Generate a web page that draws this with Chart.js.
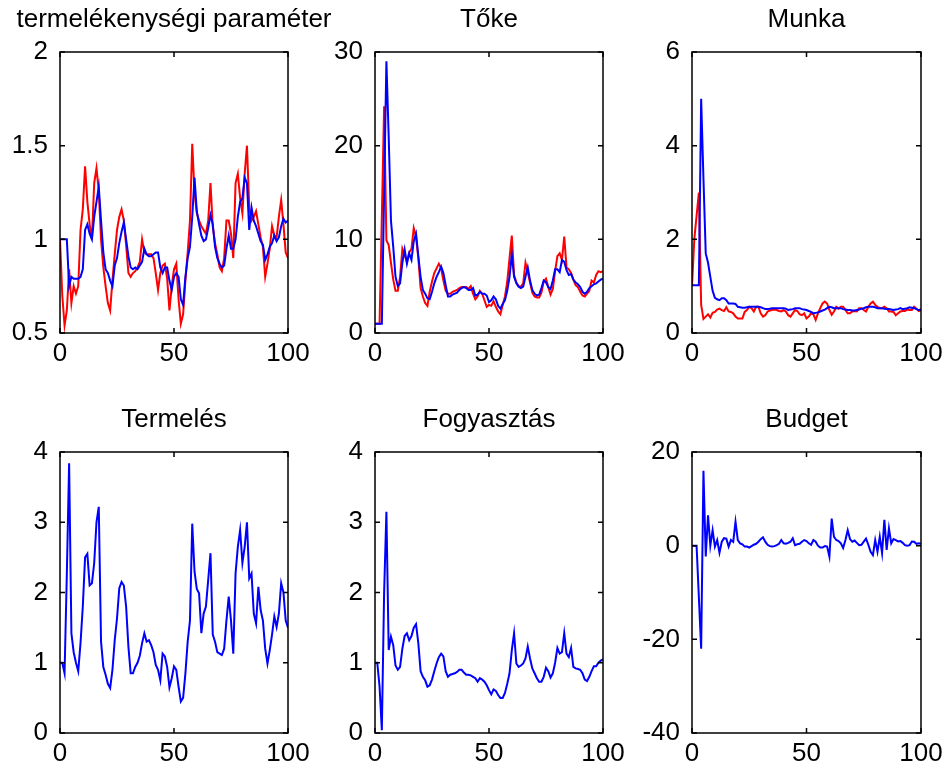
<!DOCTYPE html>
<html><head><meta charset="utf-8">
<script src="https://cdn.jsdelivr.net/npm/chart.js@4.4.1/dist/chart.umd.min.js"></script>
<style>
html,body{margin:0;padding:0;background:#fff;width:945px;height:771px;overflow:hidden;position:relative}
canvas{position:absolute}
</style></head><body>
<script>
// x categories (periods 0..100)
const periods = Array.from({length: 101}, (_, i) => i);
const xTicks = [0, 50, 100];

// termelékenységi paraméter
const tfpBlue = [1.0,1.0,1.0,1.0,0.75,0.8,0.79,0.79,0.79,0.8,
 0.84,1.05,1.08,1.03,1.0,1.12,1.2,1.28,1.1,0.93,
 0.84,0.82,0.78,0.75,0.86,0.9,0.98,1.04,1.09,1.0,
 0.91,0.85,0.84,0.85,0.84,0.86,0.88,0.95,0.92,0.91,
 0.91,0.92,0.93,0.93,0.85,0.82,0.85,0.85,0.78,0.73,
 0.8,0.82,0.8,0.68,0.65,0.8,0.9,0.96,1.12,1.33,
 1.15,1.08,1.02,0.99,1.0,1.06,1.13,1.08,0.96,0.9,
 0.87,0.85,0.86,0.95,1.02,0.95,0.95,1.0,1.12,1.2,
 1.22,1.33,1.3,1.05,1.17,1.1,1.07,1.03,0.99,0.97,
 0.89,0.92,0.96,0.98,1.02,0.99,1.01,1.07,1.11,1.09,1.1];
const tfpRed = [1.0,0.7,0.54,0.62,0.84,0.66,0.75,0.71,0.75,1.05,
 1.16,1.39,1.2,1.08,1.0,1.3,1.38,1.26,1.0,0.85,
 0.75,0.66,0.62,0.78,0.92,1.05,1.12,1.16,1.1,0.97,
 0.82,0.8,0.82,0.83,0.85,0.88,1.0,0.93,0.92,0.92,
 0.92,0.9,0.82,0.73,0.82,0.86,0.87,0.79,0.62,0.75,
 0.84,0.87,0.68,0.55,0.6,0.78,0.93,1.1,1.51,1.25,
 1.14,1.1,1.07,1.05,1.03,1.1,1.3,1.07,0.98,0.92,
 0.85,0.83,0.9,1.1,1.1,1.03,0.9,1.3,1.35,1.22,
 1.14,1.35,1.5,1.17,1.1,1.12,1.15,1.08,1.01,0.96,
 0.8,0.87,0.95,1.07,1.02,1.01,1.12,1.21,1.08,0.93,0.9];

// Tőke
const capBlue = [1,1,1,1,15,29,21,12,9.2,6.0,
 5.0,5.3,7.5,8.9,7.4,8.5,7.8,9.8,10.6,8.2,
 6.0,4.6,4.2,3.7,3.6,4.4,5.3,6.0,6.5,7.1,
 6.4,5.1,3.9,3.9,4.1,4.2,4.3,4.6,4.8,4.9,
 4.8,4.6,4.6,4.8,4.0,4.1,4.4,4.2,4.2,4.0,
 3.3,3.5,3.9,3.6,2.9,2.6,3.1,3.5,4.5,6.0,
 8.4,6.0,5.3,4.95,4.8,4.95,6.0,7.0,5.6,4.6,
 4.2,4.0,4.1,4.8,5.6,5.4,4.9,4.7,5.6,6.8,
 6.8,6.5,7.8,7.6,6.7,6.2,6.3,5.7,5.4,5.2,
 4.9,4.4,4.2,4.4,4.8,5.0,5.2,5.3,5.5,5.7,5.8];
const capRed = [1,1,1,12.4,24.2,9.9,9.4,7.5,5.7,4.5,
 4.5,6.0,9.0,8.3,7.6,8.6,9.0,11.2,10.3,8.0,
 4.8,3.9,3.2,2.9,4.4,5.5,6.4,6.9,7.4,6.9,
 5.6,4.5,4.2,4.2,4.4,4.5,4.6,4.8,4.9,4.9,
 4.9,4.7,5.0,4.2,3.6,3.9,4.5,4.2,3.5,2.8,
 3.0,2.9,3.4,2.8,2.3,2.0,3.0,3.9,5.5,8.0,
 10.4,6.2,5.4,5.0,4.95,5.3,7.5,6.5,5.4,4.3,
 3.9,3.8,3.8,4.3,5.5,5.8,4.9,4.1,4.7,6.6,
 8.2,8.5,7.8,10.3,7.0,6.8,6.4,5.7,5.1,4.9,
 4.4,4.0,3.9,4.2,4.5,5.6,5.4,6.2,6.6,6.5,6.6];

// Munka
const labBlue = [1.02,1.02,1.02,1.02,5.0,3.3,1.7,1.5,1.2,0.9,
 0.75,0.72,0.7,0.74,0.74,0.7,0.63,0.63,0.63,0.62,
 0.56,0.55,0.54,0.54,0.55,0.56,0.56,0.56,0.56,0.56,
 0.55,0.53,0.51,0.51,0.52,0.53,0.53,0.53,0.53,0.53,
 0.53,0.52,0.49,0.5,0.51,0.53,0.53,0.53,0.51,0.5,
 0.49,0.47,0.45,0.42,0.43,0.44,0.46,0.48,0.5,0.53,
 0.56,0.55,0.53,0.53,0.53,0.53,0.51,0.5,0.49,0.49,
 0.48,0.48,0.49,0.5,0.52,0.53,0.55,0.56,0.56,0.56,
 0.55,0.53,0.53,0.53,0.52,0.51,0.51,0.5,0.49,0.5,
 0.51,0.53,0.51,0.52,0.53,0.55,0.54,0.53,0.51,0.49,0.5];
const labRed = [1.0,2.0,2.5,3.0,0.6,0.3,0.35,0.4,0.33,0.43,
 0.45,0.5,0.52,0.49,0.47,0.55,0.46,0.45,0.42,0.35,
 0.31,0.31,0.31,0.45,0.49,0.56,0.53,0.46,0.56,0.56,
 0.42,0.35,0.38,0.46,0.48,0.49,0.5,0.49,0.47,0.46,
 0.49,0.46,0.38,0.35,0.42,0.49,0.47,0.4,0.38,0.42,
 0.31,0.35,0.42,0.4,0.28,0.42,0.53,0.63,0.67,0.63,
 0.49,0.39,0.46,0.56,0.52,0.56,0.56,0.49,0.42,0.42,
 0.46,0.47,0.46,0.53,0.53,0.49,0.46,0.56,0.63,0.67,
 0.6,0.56,0.53,0.53,0.56,0.53,0.46,0.46,0.45,0.38,
 0.42,0.46,0.47,0.47,0.5,0.49,0.49,0.56,0.52,0.47,0.49];

// Termelés
const output = [1.0,1.0,0.85,2.27,3.84,1.42,1.15,1.0,0.88,1.28,
 1.8,2.5,2.55,2.1,2.13,2.42,3.0,3.22,1.3,0.94,
 0.83,0.7,0.64,0.9,1.32,1.63,2.06,2.15,2.1,1.8,
 1.23,0.85,0.85,0.94,1.0,1.1,1.28,1.42,1.3,1.32,
 1.25,1.15,0.97,0.9,0.75,1.13,1.09,0.94,0.65,0.78,
 0.95,0.9,0.66,0.45,0.5,0.85,1.3,1.6,2.98,2.3,
 2.05,1.99,1.42,1.7,1.8,2.18,2.56,1.4,1.3,1.15,
 1.13,1.11,1.2,1.6,1.94,1.6,1.13,2.27,2.65,2.89,
 2.42,2.65,3.0,2.2,2.27,1.7,1.56,2.08,1.75,1.6,
 1.2,0.99,1.18,1.4,1.66,1.51,1.7,2.13,2.0,1.6,1.5];

// Fogyasztás
const consumption = [1.0,1.0,0.66,0.04,2.0,3.15,1.18,1.37,1.25,0.96,
 0.9,0.94,1.2,1.38,1.42,1.32,1.38,1.5,1.55,1.28,
 0.88,0.8,0.75,0.66,0.68,0.76,0.88,0.99,1.08,1.13,
 1.09,0.88,0.8,0.83,0.84,0.85,0.87,0.9,0.9,0.86,
 0.83,0.83,0.82,0.8,0.78,0.73,0.78,0.76,0.73,0.68,
 0.61,0.55,0.62,0.6,0.54,0.5,0.5,0.57,0.7,0.85,
 1.18,1.42,0.99,0.94,0.96,0.99,1.06,1.23,1.06,0.92,
 0.85,0.78,0.73,0.73,0.8,0.93,0.88,0.79,0.85,1.0,
 1.21,1.13,1.15,1.42,1.13,1.08,1.21,0.94,0.92,0.91,
 0.9,0.85,0.76,0.74,0.8,0.88,0.95,0.95,1.0,1.03,1.05];

// Budget
const budget = [0,0,0,-11,-22,16,-2.3,6.5,0,3.3,
 -0.2,1.2,-1.5,0.85,1.6,1.5,-0.2,1.2,0.8,5.1,
 1.2,0.5,0.3,-0.2,-0.2,-0.4,-0.1,0.2,0.4,0.85,
 1.4,1.8,0.85,0.2,-0.1,-0.2,-0.1,0.1,0.4,1.2,
 0.5,0.4,0.6,0.85,1.6,0.1,0.3,0.4,0.85,1.2,
 1.0,0.5,0.2,1.2,0.85,0.0,-0.4,-0.4,-0.1,-0.2,
 -2.35,5.8,1.9,1.2,1.0,0.5,-0.5,1.2,3.3,1.4,
 0.85,1.1,0.6,0.1,0.2,0.85,1.5,0.2,-1.3,-2.0,
 1.2,-1.3,1.9,-1.6,5.5,-0.9,3.7,0.5,1.4,1.2,
 0.9,1.0,0.6,0.1,0.0,0.1,0.9,0.85,0.4,0.5,0.4];

// y tick labels per panel
const yTicksTfp = [0.5, 1, 1.5, 2];
const yTicksCap = [0, 10, 20, 30];
const yTicksLab = [0, 2, 4, 6];
const yTicksOut = [0, 1, 2, 3, 4];
const yTicksCons = [0, 1, 2, 3, 4];
const yTicksBud = [-40, -20, 0, 20];

const BLUE = '#0000ff', RED = '#ff0000';
const panels = [
  {title: 'termelékenységi paraméter', series: [[tfpBlue, BLUE], [tfpRed, RED]], yTicks: yTicksTfp, box: [60, 52, 228, 281]},
  {title: 'Tőke', series: [[capBlue, BLUE], [capRed, RED]], yTicks: yTicksCap, box: [375, 52, 228, 281]},
  {title: 'Munka', series: [[labBlue, BLUE], [labRed, RED]], yTicks: yTicksLab, box: [692, 52, 229, 281]},
  {title: 'Termelés', series: [[output, BLUE]], yTicks: yTicksOut, box: [60, 452, 228, 281]},
  {title: 'Fogyasztás', series: [[consumption, BLUE]], yTicks: yTicksCons, box: [375, 452, 228, 281]},
  {title: 'Budget', series: [[budget, BLUE]], yTicks: yTicksBud, box: [692, 452, 229, 281]}
];

Chart.defaults.font.family = "'Liberation Sans', Arial, Helvetica, sans-serif";
Chart.defaults.color = '#000';

const FONT = 26, SIDE = 60, TOP = 52, BOTTOM = 38, TICK = 5;

const boxPlugin = {
  id: 'matlabBox',
  afterDraw(chart) {
    const {ctx, chartArea: a, scales: {x, y}} = chart;
    ctx.save();
    ctx.strokeStyle = '#000';
    ctx.lineWidth = 1.5;
    ctx.strokeRect(a.left, a.top, a.right - a.left, a.bottom - a.top);
    ctx.beginPath();
    x.ticks.forEach(t => {
      const px = x.getPixelForValue(t.value);
      ctx.moveTo(px, a.bottom); ctx.lineTo(px, a.bottom - TICK);
      ctx.moveTo(px, a.top); ctx.lineTo(px, a.top + TICK);
    });
    y.ticks.forEach(t => {
      const py = y.getPixelForValue(t.value);
      ctx.moveTo(a.left, py); ctx.lineTo(a.left + TICK, py);
      ctx.moveTo(a.right, py); ctx.lineTo(a.right - TICK, py);
    });
    ctx.stroke();
    ctx.restore();
  }
};

const fmt = v => String(v);

panels.forEach(p => {
  const [bl, bt, bw, bh] = p.box;
  const W = SIDE + bw + SIDE, H = TOP + bh + BOTTOM;
  const cv = document.createElement('canvas');
  cv.width = W; cv.height = H;
  cv.style.left = (bl - SIDE) + 'px';
  cv.style.top = (bt - TOP) + 'px';
  cv.style.width = W + 'px'; cv.style.height = H + 'px';
  document.body.appendChild(cv);
  const yt = p.yTicks;
  new Chart(cv, {
    type: 'line',
    data: {
      datasets: p.series.map(([arr, col]) => ({
        data: arr.map((v, i) => ({x: periods[i], y: v})),
        borderColor: col, borderWidth: 2, pointRadius: 0, tension: 0, fill: false
      }))
    },
    options: {
      responsive: false, animation: false, devicePixelRatio: 1,
      layout: {padding: 0},
      plugins: {
        legend: {display: false}, tooltip: {enabled: false},
        title: {display: true, text: p.title, color: '#000',
          font: {size: FONT, weight: 'normal', lineHeight: 1.2},
          padding: {top: 4.4, bottom: 16.4}}
      },
      scales: {
        x: {type: 'linear', min: xTicks[0], max: xTicks[xTicks.length - 1],
          afterBuildTicks: s => { s.ticks = xTicks.map(v => ({value: v})); },
          afterFit: s => { s.height = BOTTOM; },
          grid: {display: false, drawTicks: false}, border: {display: false},
          ticks: {autoSkip: false, maxRotation: 0, padding: 5.4, color: '#000', font: {size: FONT}, callback: fmt}},
        y: {type: 'linear', position: 'left', min: yt[0], max: yt[yt.length - 1],
          afterBuildTicks: s => { s.ticks = yt.map(v => ({value: v})); },
          afterFit: s => { s.width = SIDE; },
          grid: {display: false, drawTicks: false}, border: {display: false},
          ticks: {autoSkip: false, padding: 12, color: '#000', font: {size: FONT}, callback: fmt}},
        yRight: {type: 'linear', position: 'right', min: yt[0], max: yt[yt.length - 1],
          afterFit: s => { s.width = SIDE; },
          grid: {display: false, drawTicks: false}, border: {display: false},
          ticks: {display: false}}
      }
    },
    plugins: [boxPlugin]
  });
});
</script>
</body></html>
